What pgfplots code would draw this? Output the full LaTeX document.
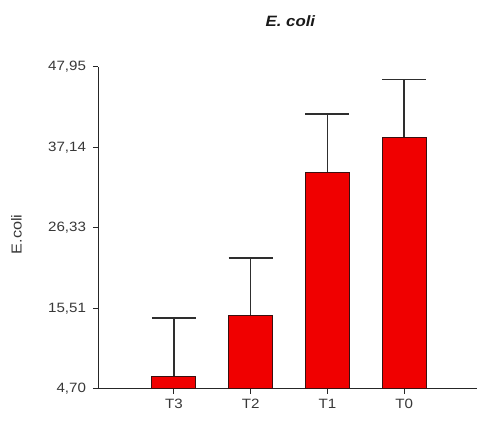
\documentclass[border=0pt]{standalone}
\usepackage{pgfplots}
\pgfplotsset{compat=1.18}
\usepackage{fontspec}
\setmainfont{Liberation Sans}[FakeStretch=1.12]
\definecolor{barred}{HTML}{F00000}
\definecolor{edge}{HTML}{3A1010}
\definecolor{errc}{HTML}{2E2E2E}
\begin{document}
\begin{tikzpicture}
\useasboundingbox (0,0) rectangle (479pt,422pt);
\begin{axis}[
  at={(98pt,33pt)},
  scale only axis,
  width=379pt, height=322pt,
  anchor=south west,
  axis lines=left,
  axis line style={-, line width=1pt, black!85},
  xmin=-0.99, xmax=3.95,
  ymin=4.70, ymax=47.95,
  xtick={0,1,2,3},
  xticklabels={T3,T2,T1,T0},
  ytick={4.70,15.51,26.33,37.14,47.95},
  yticklabels={{4,70},{15,51},{26,33},{37,14},{47,95}},
  tick align=outside,
  major tick length=5pt,
  tick style={line width=1pt, black!85},
  ticklabel style={font=\fontsize{13.5}{15}\selectfont, text=black!78},
  /pgf/number format/assume math mode=true,
  xticklabel style={yshift=-2pt},
  yticklabel style={xshift=-3.5pt},
  ylabel={E.coli},
  ylabel style={at={(axis description cs:-0.215,0.48)}, anchor=center, font=\fontsize{14.5}{16}\selectfont, text=black!78},
  title={\textbf{\textit{E. coli}}},
  title style={at={(axis description cs:0.508,1)}, anchor=center, yshift=40pt, font=\fontsize{15}{17}\selectfont, text=black!90},
  clip=true,
]
\addplot[ybar, bar width=44pt, fill=barred, draw=edge, line width=1pt,
  error bars/.cd, y dir=plus, y explicit,
  error bar style={line width=1.4pt, errc},
  error mark options={rotate=90, mark size=22pt, line width=1.4pt, errc}]
  coordinates {
  (0,6.44) +- (0,7.79)
  (1,14.63) +- (0,7.65)
  (2,33.83) +- (0,7.78)
  (3,38.53) +- (0,7.77)
  };
\end{axis}
\end{tikzpicture}
\end{document}
